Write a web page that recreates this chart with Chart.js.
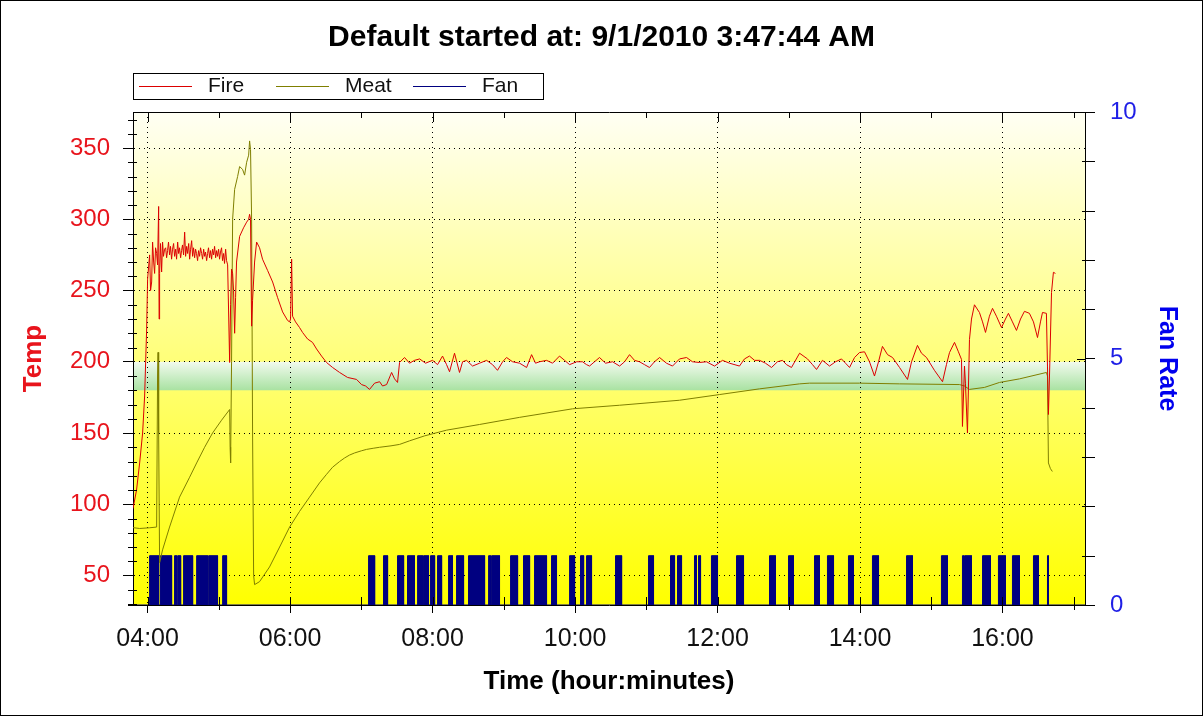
<!DOCTYPE html>
<html>
<head>
<meta charset="utf-8">
<title>Default started at: 9/1/2010 3:47:44 AM</title>
<script src="https://cdn.jsdelivr.net/npm/chart.js@4.4.0/dist/chart.umd.min.js"></script>
<style>
  html, body { margin: 0; padding: 0; background: #fff; }
  #wrap { width: 1203px; height: 716px; }
</style>
</head>
<body>
<div id="wrap"><canvas id="chart" width="1203" height="716"></canvas></div>
<script>
// time is in minutes after midnight
const titleText = 'Default started at: 9/1/2010 3:47:44 AM';
const startMinute = 227.7;
const endMinute = 1029.5;
const tempMin = 29.3, tempMax = 375.3;
const fanMin = 0, fanMax = 10;
const targetLow = 180, targetHigh = 200;

// [minute, temp]
const fireReadings = [
  [227.7,97],[230.7,110],[233.3,129],[235.8,150],[237.5,176],[239.2,223],[240.0,258],[241.7,275],
  [242.5,250],[243.4,256],[244.2,284],[245.1,270],[245.9,262],[246.7,280],[247.6,276],[248.4,268],
  [249.3,309],[249.7,230],[250.1,262],[250.9,283],[251.8,263],[252.6,284],[253.4,274],[254.3,279],
  [255.2,280],[256.0,273],[256.8,278],[257.6,284],[258.5,275],[259.3,281],[260.2,272],[261.0,279],
  [261.9,283],[262.7,274],[263.6,279],[264.4,272],[265.3,284],[266.1,276],[266.9,280],[267.8,273],
  [268.6,278],[269.4,282],[270.3,275],[271.2,291],[272.0,274],[272.9,281],[273.7,276],[274.6,283],
  [275.4,272],[276.2,279],[277.1,285],[277.9,274],[278.7,280],[279.6,273],[280.4,279],[281.2,276],
  [282.1,271],[282.9,278],[283.8,274],[284.6,280],[285.5,276],[286.3,272],[287.2,279],[288.0,274],
  [288.8,277],[289.7,271],[290.5,276],[291.3,280],[292.2,273],[293.0,278],[293.9,272],[294.7,279],
  [295.6,275],[296.4,281],[297.3,273],[298.1,278],[298.9,274],[299.8,279],[300.6,272],[301.4,277],
  [302.3,280],[303.1,271],[304.0,276],[304.8,269],[305.7,279],[306.5,271],
  [307.4,268],[309.1,199.5],[309.9,240],[310.7,265],[311.6,262],[312.4,250],[313.3,220],[314.1,245],
  [314.9,270],[317.5,288],[320.8,294],[323.4,298],[325.1,300],[325.9,303.5],[326.7,300],[327.6,225],
  [328.4,243],[330.1,270],[331.8,284],[334.3,280],[336.8,272],[341.1,264],[345.3,256],[349.5,245],
  [353.7,235],[357.9,229],[359.6,228],[360.4,230],[361.3,272],[362.1,232],[364.6,228],[368.0,224],
  [370.5,220.6],[374.7,216],[378.9,213.6],[382.3,209],[386.5,204],[390.7,199.5],[395.8,196],[401.7,192.5],
  [408.4,189],[416.0,187.6],[420.2,184],[423.6,183],[426.9,180.6],[431.2,185],[435.4,186],[437.9,183],
  [441.3,184],[445.5,192.5],[448.0,188],[450.5,185.5],[452.2,199.5],[456.4,203],[460.6,199],[464.8,201],
  [469.1,202],[474.1,199],[480.0,201],[484.2,198],[488.4,204],[491.8,198],[494.3,193],[498.5,206],
  [502.7,192.5],[505.3,200],[508.6,201],[513.7,197],[519.6,199],[525.5,201],[530.5,198],[534.7,194],
  [539.0,200],[542.3,203],[547.4,200],[553.3,199],[559.2,196],[563.4,205],[566.7,199],[570.1,200],
  [576.0,201],[581.1,199],[586.9,204],[591.2,201],[595.4,198],[601.3,200],[606.3,200],[609.7,198],
  [612.2,197],[616.4,200],[620.6,203],[625.7,199],[631.6,200],[637.5,197],[641.7,200],[645.9,205],
  [650.1,201],[654.3,200],[658.5,198],[662.7,196],[666.9,200],[671.2,203],[677.0,199],[682.1,197],
  [688.0,202],[693.9,203],[698.9,200],[704.8,199.5],[710.7,200],[717.5,197],[724.2,201],[730.1,199],
  [738.5,197],[742.7,202],[746.9,204],[751.2,201],[755.4,201],[760.4,199],[765.5,196],[770.5,200],
  [774.7,201],[778.1,198],[782.3,196],[789.1,206],[795.8,202],[800.0,198],[803.4,194.6],[808.4,201],
  [814.3,197],[819.4,200],[824.4,202],[827.8,199],[831.2,196],[835.4,203],[839.6,206.5],[843.8,207],
  [848.0,200],[852.2,190],[855.6,200],[858.9,210.8],[863.2,205],[867.4,203],[873.3,196],[880.0,187.6],
  [883.4,200],[888.4,211.5],[891.8,206],[896.0,203],[902.7,194],[909.5,186],[912.8,198],[915.4,206.5],
  [919.6,213.6],[922.9,207],[925.5,201.6],[926.3,154.6],[928.0,197],[928.8,185],[930.5,150],[932.2,215.7],
  [933.9,230],[936.4,240],[940.6,234.6],[943.2,228],[945.7,220.6],[949.0,232],[951.6,237.5],[954.9,232],
  [959.2,224],[962.5,230],[965.0,234],[968.4,228],[971.8,222],[975.2,230],[978.5,235.4],[982.7,234],
  [986.1,228],[989.5,217],[992.0,228],[993.7,234.6],[997.0,234],[997.9,197],[998.7,163],[999.6,190],
  [1001.3,248.7],[1002.9,262.8],[1004.6,262]
];

const meatReadings = [
  [227.7,83.6],[233.3,83],[241.7,83.5],[247.6,84],[248.4,190],[248.8,206.6],[249.3,150],[250.1,59],
  [252.6,68],[258.5,84],[266.9,105],[275.4,119],[281.3,129],[288.0,140],[294.7,150],[302.3,159],
  [309.1,166.5],[309.5,140],[309.9,129],[310.7,200],[311.6,300],[313.3,321],[315.8,330],[317.5,337],
  [320.0,335],[321.7,331],[323.4,340],[325.1,345],[325.9,355],[326.7,349],[327.6,300],[328.4,150],
  [329.3,50],[330.1,43.6],[334.3,45.7],[342.7,56],[351.2,70],[359.6,84],[368.0,95],[376.4,105],
  [384.8,115],[390.7,121],[395.8,126],[401.7,130],[405.9,132.5],[410.0,134.5],[414.3,136],[420.0,137.5],
  [424.4,138.5],[430.0,139.3],[435.4,140],[445.0,141],[452.2,142],[460.6,144.5],[473.3,148],[491.8,152],
  [519.6,156],[553.3,161],[597.9,167],[637.5,169.5],[688.0,173],[721.7,177],
  [755.4,181],[789.1,184.5],[797.5,185],[839.6,185],[873.3,184.5],[923.8,184],[928.0,183],[932.2,180.6],
  [944.8,182],[957.5,185.5],[974.3,188],[997.0,192.5],[997.9,190],[998.7,129],[1000.4,125],[1002.0,123]
];

// [fan on, fan off] minutes, fan rate 1 while on
const fanRuns = [
  [241.7,249.3],[250.9,260.2],[262.7,264.4],[265.3,267.8],[270.3,277.9],[281.3,290.5],[291.4,298.9],
  [303.2,306.5],[426.1,431.2],[438.7,442.1],[450.5,455.6],[458.9,464.8],[467.4,471.6],[472.4,476.6],
  [478.3,481.7],[484.2,487.6],[493.5,496.8],[500.2,506.1],[510.3,523.8],[527.2,528.8],[529.7,536.4],
  [545.7,551.6],[556.6,561.7],[565.9,576.0],[580.2,584.4],[595.4,599.6],[604.6,607.2],[609.7,613.9],
  [634.1,639.2],[661.9,666.1],[680.4,683.8],[686.3,689.7],[700.6,702.3],[704.0,705.7],[714.9,720.0],
  [736.0,741.9],[763.8,768.8],[779.8,784.0],[801.7,805.9],[812.6,817.7],[830.3,834.5],[850.5,855.6],
  [879.2,884.2],[908.6,913.7],[926.3,927.2],[928.0,933.9],[943.2,949.9],[956.6,962.5],[968.4,974.3],
  [986.1,990.3],[997.9,998.7]
];
const fanLevel = 1;

const FONT = '"Liberation Sans", Arial, Helvetica, sans-serif';
Chart.defaults.font.family = FONT;

const toPoints = arr => arr.map(p => ({ x: p[0], y: p[1] }));

const fanPoints = [{ x: startMinute, y: 0 }];
fanRuns.forEach(r => {
  fanPoints.push({ x: r[0], y: 0 }, { x: r[0], y: fanLevel }, { x: r[1], y: fanLevel }, { x: r[1], y: 0 });
});
fanPoints.push({ x: endMinute, y: 0 });

function hhmm(v) {
  const h = Math.floor(v / 60), m = Math.round(v % 60);
  return String(h).padStart(2, '0') + ':' + String(m).padStart(2, '0');
}

const backdrop = {
  id: 'backdrop',
  beforeDraw(chart) {
    const { ctx, chartArea: a, scales } = chart;
    ctx.save();
    ctx.fillStyle = '#fff';
    ctx.fillRect(0, 0, chart.width, chart.height);
    const g = ctx.createLinearGradient(0, a.top, 0, a.bottom);
    g.addColorStop(0, '#fffff4');
    g.addColorStop(1, '#ffff00');
    ctx.fillStyle = g;
    ctx.fillRect(a.left, a.top, a.right - a.left, a.bottom - a.top);

    const yHi = scales.y.getPixelForValue(targetHigh);
    const yLo = scales.y.getPixelForValue(targetLow);
    const b = ctx.createLinearGradient(0, yHi, 0, yLo);
    b.addColorStop(0, '#f2faee');
    b.addColorStop(0.5, '#cdeec8');
    b.addColorStop(1, '#a9e2a2');
    ctx.fillStyle = b;
    ctx.fillRect(a.left, yHi, a.right - a.left, yLo - yHi);
    ctx.restore();
  },
  afterDraw(chart) {
    const { ctx, chartArea: a, scales } = chart;
    ctx.save();
    ctx.strokeStyle = '#000';
    ctx.lineWidth = 1;
    ctx.beginPath();
    // top border
    ctx.moveTo(a.left, a.top + 0.5);
    ctx.lineTo(a.right + 1, a.top + 0.5);
    // bottom axis runs a little past the left axis
    ctx.moveTo(a.left - 5, a.bottom + 0.5);
    ctx.lineTo(a.left, a.bottom + 0.5);
    // hour ticks top and bottom
    for (let m = 240; m <= endMinute; m += 60) {
      const x = Math.round(scales.x.getPixelForValue(m)) + 0.5;
      const major = m % 120 === 0;
      ctx.moveTo(x, a.top);
      ctx.lineTo(x, a.top + (major ? 10 : 6));
      ctx.moveTo(x, a.bottom - 8);
      ctx.lineTo(x, a.bottom + (major ? 0 : 5));
    }
    // temp minor ticks
    for (let v = 30; v <= tempMax; v += 10) {
      if (v % 50 === 0) continue;
      const y = Math.round(scales.y.getPixelForValue(v)) + 0.5;
      ctx.moveTo(a.left - 5, y);
      ctx.lineTo(a.left + 4, y);
    }
    // fan ticks
    for (let v = fanMin; v <= fanMax; v++) {
      const y = Math.round(scales.y1.getPixelForValue(v)) + 0.5;
      if (v % 5 === 0) {
        ctx.moveTo(a.right - 8, y);
        ctx.lineTo(a.right, y);
      } else {
        ctx.moveTo(a.right - 3, y);
        ctx.lineTo(a.right + 10, y);
      }
    }
    ctx.stroke();

    // legend box
    const lx = a.left, ly = a.top - 39;
    ctx.strokeRect(lx + 0.5, ly + 0.5, 410, 26);
    ctx.font = '21px ' + FONT;
    ctx.textBaseline = 'middle';
    ctx.textAlign = 'left';
    chart.data.datasets.forEach((ds, i) => {
      const x0 = lx + 6 + i * 137;
      const y0 = ly + 13.5;
      ctx.strokeStyle = ds.borderColor;
      ctx.beginPath();
      ctx.moveTo(x0, y0);
      ctx.lineTo(x0 + 53, y0);
      ctx.stroke();
      ctx.fillStyle = '#111';
      ctx.fillText(ds.label, x0 + 69, y0);
    });

    // outer frame
    ctx.strokeStyle = '#000';
    ctx.strokeRect(0.5, 0.5, chart.width - 1, chart.height - 1);
    ctx.restore();
  }
};

new Chart(document.getElementById('chart'), {
  type: 'line',
  data: {
    datasets: [
      {
        label: 'Fire',
        data: toPoints(fireReadings),
        borderColor: '#dc0000',
        borderWidth: 1,
        pointRadius: 0,
        yAxisID: 'y'
      },
      {
        label: 'Meat',
        data: toPoints(meatReadings),
        borderColor: '#7f7f00',
        borderWidth: 1,
        pointRadius: 0,
        yAxisID: 'y'
      },
      {
        label: 'Fan',
        data: fanPoints,
        borderColor: '#000080',
        backgroundColor: '#000080',
        borderWidth: 1,
        pointRadius: 0,
        fill: 'origin',
        yAxisID: 'y1'
      }
    ]
  },
  options: {
    responsive: false,
    animation: false,
    devicePixelRatio: 1,
    layout: { padding: 0 },
    plugins: {
      legend: { display: false },
      tooltip: { enabled: false },
      title: {
        display: true,
        text: titleText,
        color: '#000',
        font: { size: 30, weight: 'bold' },
        padding: { top: 20, bottom: 56 }
      }
    },
    scales: {
      x: {
        type: 'linear',
        min: startMinute,
        max: endMinute,
        afterFit: s => { s.height = 111; },
        border: { color: '#000', width: 1, dash: [1, 4] },
        grid: { color: '#000', tickColor: '#000', tickLength: 8, tickBorderDash: [] },
        ticks: {
          stepSize: 120,
          includeBounds: false,
          autoSkip: false,
          maxRotation: 0,
          color: '#111',
          padding: 11,
          font: { size: 25 },
          callback: v => hhmm(v)
        },
        title: {
          display: true,
          text: 'Time (hour:minutes)',
          color: '#000',
          font: { size: 26, weight: 'bold' },
          padding: { top: 0, bottom: 19 }
        }
      },
      y: {
        position: 'left',
        min: tempMin,
        max: tempMax,
        afterFit: s => { s.width = 133; },
        border: { color: '#000', width: 1, dash: [1, 4] },
        grid: { color: '#000', tickColor: '#000', tickLength: 10, tickBorderDash: [] },
        ticks: {
          stepSize: 50,
          includeBounds: false,
          color: '#e8141c',
          padding: 13,
          font: { size: 24 }
        },
        title: {
          display: true,
          text: 'Temp',
          color: '#e8141c',
          font: { size: 26, weight: 'bold' },
          padding: { top: 18, bottom: 0 }
        }
      },
      y1: {
        position: 'right',
        min: fanMin,
        max: fanMax,
        afterFit: s => { s.width = 118; },
        border: { color: '#000', width: 1 },
        grid: { drawOnChartArea: false, color: '#000', tickColor: '#000', tickLength: 10 },
        ticks: {
          stepSize: 5,
          includeBounds: false,
          color: '#1f1fe6',
          padding: 15,
          font: { size: 24 }
        },
        title: {
          display: true,
          text: 'Fan Rate',
          color: '#0000ee',
          font: { size: 25, weight: 'bold' },
          padding: { top: 21, bottom: 0 }
        }
      }
    }
  },
  plugins: [backdrop]
});
</script>
</body>
</html>
